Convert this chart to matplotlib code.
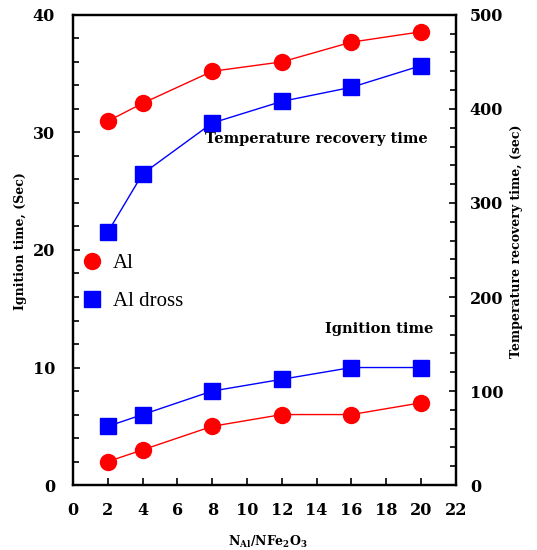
import matplotlib.pyplot as plt
from matplotlib.lines import Line2D
from matplotlib.ticker import MultipleLocator

# data
ratio = [2, 4, 8, 12, 16, 20]
ign_al = [2, 3, 5, 6, 6, 7]
ign_dross = [5, 6, 8, 9, 10, 10]
rec_al = [387, 406, 440, 450, 471, 482]
rec_dross = [269, 331, 385, 408, 423, 446]

plt.rcParams['font.family'] = 'DejaVu Serif'
plt.rcParams['font.weight'] = 'bold'
plt.rcParams['mathtext.fontset'] = 'dejavuserif'

fig = plt.figure(figsize=(5.37, 5.5), dpi=100, facecolor="white")
ax = fig.add_axes([0.136, 0.118, 0.713, 0.855])
ax2 = ax.twinx()

ax.plot(ratio, ign_al, color='red', lw=1, marker='o', ms=11.5)
ax.plot(ratio, ign_dross, color='blue', lw=1, marker='s', ms=11.5)
ax2.plot(ratio, rec_al, color='red', lw=1, marker='o', ms=11.5)
ax2.plot(ratio, rec_dross, color='blue', lw=1, marker='s', ms=11.5)

ax.set_xlim(0, 22)
ax.set_ylim(0, 40)
ax2.set_ylim(0, 500)
ax.xaxis.set_major_locator(MultipleLocator(2))
ax.yaxis.set_major_locator(MultipleLocator(10))
ax.yaxis.set_minor_locator(MultipleLocator(2))
ax2.yaxis.set_major_locator(MultipleLocator(100))
ax2.yaxis.set_minor_locator(MultipleLocator(20))

for a in [ax, ax2]:
    for s in a.spines.values():
        s.set_linewidth(1.6)
    a.tick_params(which='both', direction='in', labelsize=11.5, width=1.2)
    a.tick_params(which='major', length=5)
    a.tick_params(which='minor', length=4)
ax.tick_params(axis='y', right=False, pad=13)
ax.tick_params(axis='x', pad=12)
ax2.tick_params(axis='y', pad=10)

ax.set_ylabel('Ignition time, (Sec)', fontsize=9, fontweight='bold')
ax.yaxis.set_label_coords(-0.12, 0.52)
ax2.set_ylabel('Temperature recovery time, (sec)', fontsize=9, fontweight='bold')
ax2.yaxis.set_label_coords(1.141, 0.519)
ax.set_xlabel(r'N$_{\mathbf{Al}}$/NFe$_{\mathbf{2}}$O$_{\mathbf{3}}$', fontsize=9, fontweight='bold')
ax.xaxis.set_label_coords(0.508, -0.104)

ax.text(7.58, 29.1, 'Temperature recovery time', fontsize=10.5, fontweight='bold', va='baseline')
ax.text(14.47, 12.9, 'Ignition time', fontsize=10.5, fontweight='bold', va='baseline')

# legend: markers only
h_al = Line2D([], [], color='red', marker='o', ms=11.5, linestyle='none')
h_dross = Line2D([], [], color='blue', marker='s', ms=11.5, linestyle='none')
ax2.legend([h_al, h_dross], ['Al', 'Al dross'], loc='center left', bbox_to_anchor=(0.022, 0.431),
           frameon=False, borderaxespad=0, borderpad=0,
           handletextpad=0.5, labelspacing=0.9, handlelength=1.0,
           prop={'family': 'Liberation Serif', 'weight': 'normal', 'size': 15})

plt.savefig('out.png', dpi=100)
